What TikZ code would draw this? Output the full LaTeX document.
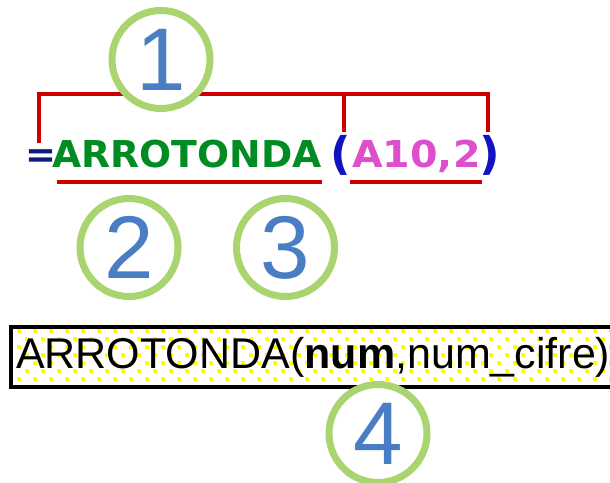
\documentclass[tikz,border=0pt]{standalone}
\usepackage{fontspec}
\setmainfont{Liberation Sans}
\newfontfamily\formulafont{DejaVu Sans}
\usetikzlibrary{calc}
\definecolor{ringcolor}{RGB}{170,212,112}
\definecolor{digitcolor}{RGB}{74,126,196}
\definecolor{bracketred}{RGB}{204,0,0}
\definecolor{eqcolor}{RGB}{12,28,124}
\definecolor{fncolor}{RGB}{0,140,35}
\definecolor{parencolor}{RGB}{18,18,192}
\definecolor{argcolor}{RGB}{221,79,203}
\definecolor{dotcolor}{RGB}{255,255,0}

\tikzset{
callout/.style={circle,draw=ringcolor,line width=7pt,fill=white,
  minimum size=98pt,inner sep=0pt,text=digitcolor,
  font=\fontsize{89}{89}\selectfont},
redline/.style={draw=bracketred,line width=4pt},
formula/.style={inner sep=0pt,anchor=base west,
  font=\formulafont\bfseries\fontsize{37}{37}\selectfont},
paren/.style={formula,text=parencolor,
  font=\formulafont\bfseries\fontsize{45}{45}\selectfont}
}

\begin{document}
\begin{tikzpicture}[x=1pt,y=-1pt]
\useasboundingbox (0,0) rectangle (610,482);

% Formula
\node[formula,text=eqcolor] (eq) at (25,167) {=};
\node[formula,text=fncolor,xscale=1.02] (fn) at (52,167) {ARROTONDA};
\node[paren] (lp) at (330,169) {(};
\node[formula,text=argcolor,xscale=1.07] (args) at (352,167) {A10,2};
\node[paren] (rp) at (479,169) {)};

% Bracket over the whole formula
\coordinate (brtop) at (0,94);
\coordinate (brleft) at (39,143);
\coordinate (brmid) at (344,132);
\coordinate (brright) at (488,132);
\draw[redline] (brleft) -- (brleft |- brtop) -- (brright |- brtop) -- (brright);
\draw[redline] (brmid |- brtop) -- (brmid);

% Underlines
\coordinate (ulfa) at (57,182);
\coordinate (ulfb) at (322,182);
\coordinate (ulaa) at (350,182);
\coordinate (ulab) at (482,182);
\draw[redline] (ulfa) -- (ulfb);
\draw[redline] (ulaa) -- (ulab);

% Callouts
\node[callout] (c1) at (161,59.5) {1};
\node[callout] (c2) at (129,247.5) {2};
\node[callout] (c3) at (285.5,247.5) {3};

% Tooltip box
\foreach \j in {0,...,6}
  \foreach \k in {0,...,37}
    \fill[dotcolor] ({17+16*\k+8*mod(\j,2)},{329+8*\j}) rectangle ++(4,4);
\draw[line width=4pt] (11,327) rectangle (640,387);
\node[anchor=base west,inner sep=0pt,font=\fontsize{43}{43}\selectfont]
  (syntax) at (16,368) {ARROTONDA(\textbf{num},num\_cifre)};

\node[callout] (c4) at (378,433.5) {4};

\end{tikzpicture}
\end{document}
